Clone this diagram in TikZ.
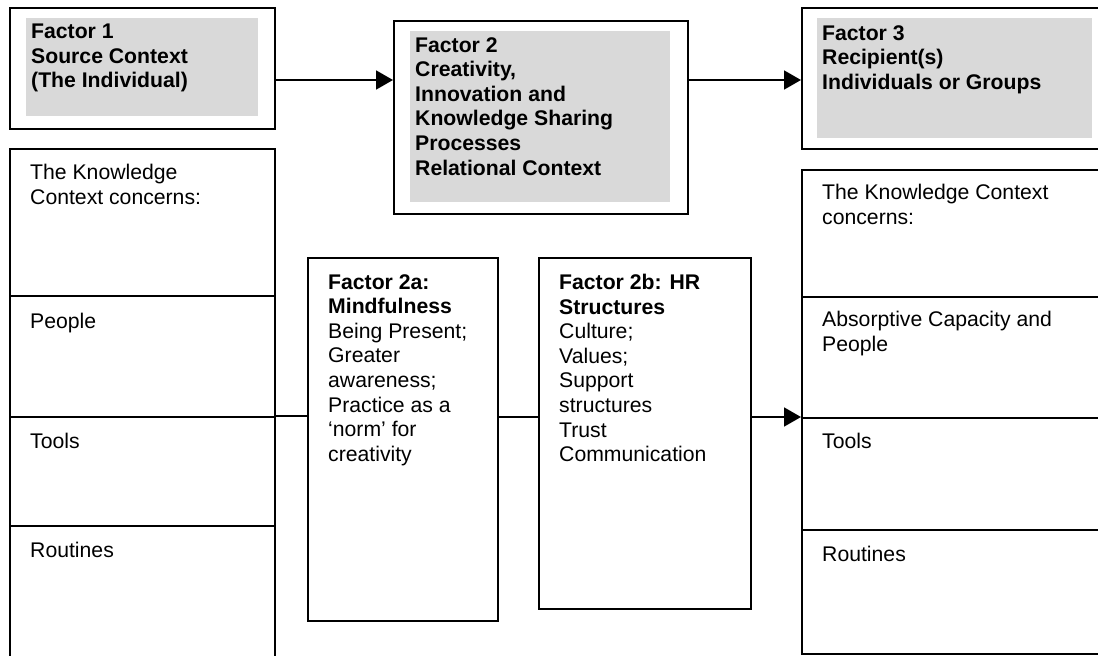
\documentclass[tikz,border=0pt]{standalone}
\usepackage{fontspec}
\setmainfont{Liberation Sans}
\usetikzlibrary{arrows.meta}
\definecolor{greyfill}{HTML}{D9D9D9}
\begin{document}
\begin{tikzpicture}[x=1pt,y=-1pt,
  box/.style={draw, line width=1.8pt, inner sep=0pt, rectangle, anchor=north west},
  greybox/.style={fill=greyfill, inner sep=0pt, rectangle, anchor=north west},
  txt/.style={inner sep=0pt, anchor=north west, align=left, font=\fontsize{21.2}{24.6}\selectfont},
  hd/.style={txt, font=\fontsize{21.2}{24.6}\selectfont\bfseries},
  conn/.style={line width=1.8pt},
  arr/.style={conn, -{Triangle[length=17pt 0 0,width=19pt 0 0]}}]
\clip (0,0) rectangle (1098,656);
\fill[white] (0,0) rectangle (1098,656);

% top boxes
\node[box, minimum width=265pt, minimum height=121pt] (f1) at (9,7) {};
\node[greybox, minimum width=232pt, minimum height=98pt] (g1) at (26,18) {};
\node[box, minimum width=294pt, minimum height=193pt] (f2) at (393,20) {};
\node[greybox, minimum width=260pt, minimum height=171pt] (g2) at (410,31) {};
\node[box, minimum width=301pt, minimum height=141pt] (f3) at (801,7) {};
\node[greybox, minimum width=275pt, minimum height=120pt] (g3) at (817,18) {};

\node[hd] (t1) at ([shift={(22,17)}]f1.north west) {Factor 1\\Source Context\\(The Individual)};
\node[hd] (t2) at ([shift={(22,17)}]f2.north west) {Factor 2\\Creativity,\\Innovation and\\Knowledge Sharing\\Processes\\Relational Context};
\node[hd] (t3) at ([shift={(21,18)}]f3.north west) {Factor 3\\Recipient(s)\\Individuals or Groups};

% left column
\node[box, minimum width=265pt, minimum height=147pt] (lc1) at (9,148) {};
\node[box, minimum width=265pt, minimum height=121pt] (lc2) at (9,295) {};
\node[box, minimum width=265pt, minimum height=109pt] (lc3) at (9,416) {};
\node[box, minimum width=265pt, minimum height=140pt] (lc4) at (9,525) {};
\node[txt] (lt1) at ([shift={(21,16)}]lc1.north west) {The Knowledge\\Context concerns:};
\node[txt] (lt2) at ([shift={(21,18)}]lc2.north west) {People};
\node[txt] (lt3) at ([shift={(21,17)}]lc3.north west) {Tools};
\node[txt] (lt4) at ([shift={(21,17)}]lc4.north west) {Routines};

% right column
\node[box, minimum width=301pt, minimum height=127pt] (rc1) at (801,169) {};
\node[box, minimum width=301pt, minimum height=121pt] (rc2) at (801,296) {};
\node[box, minimum width=301pt, minimum height=112pt] (rc3) at (801,417) {};
\node[box, minimum width=301pt, minimum height=124pt] (rc4) at (801,529) {};
\node[txt] (rt1) at ([shift={(21,15)}]rc1.north west) {The Knowledge Context\\concerns:};
\node[txt] (rt2) at ([shift={(21,15)}]rc2.north west) {Absorptive Capacity and\\People};
\node[txt] (rt3) at ([shift={(21,16)}]rc3.north west) {Tools};
\node[txt] (rt4) at ([shift={(21,17)}]rc4.north west) {Routines};

% middle boxes
\node[box, minimum width=190pt, minimum height=363pt] (f2a) at (307,257) {};
\node[box, minimum width=212pt, minimum height=351pt] (f2b) at (538,257) {};
\node[txt] (ta) at ([shift={(21,17)}]f2a.north west) {\textbf{Factor 2a:}\\\textbf{Mindfulness}\\Being Present;\\Greater\\awareness;\\Practice as a\\‘norm’ for\\creativity};
\node[txt] (tb) at ([shift={(21,17)}]f2b.north west) {\textbf{Factor 2b: HR}\\\textbf{Structures}\\Culture;\\Values;\\Support\\structures\\Trust\\Communication};

% connectors
\coordinate (ya) at (0,80);
\draw[arr] (f1.east |- ya) -- (f2.west |- ya);
\draw[arr] (f2.east |- ya) -- (f3.west |- ya);
\draw[conn] (lc3.north east) -- (f2a.west |- lc3.north east);
\draw[conn] (f2a.east |- rc3.north west) -- (f2b.west |- rc3.north west);
\draw[arr] (f2b.east |- rc3.north west) -- (rc3.north west);
\end{tikzpicture}
\end{document}
